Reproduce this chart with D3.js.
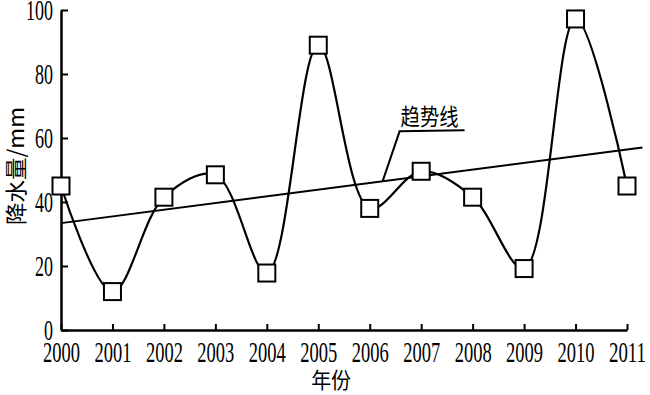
<!DOCTYPE html>
<html>
<head>
<meta charset="utf-8">
<script src="https://cdn.jsdelivr.net/npm/d3@7"></script>
<style>
  body { margin: 0; background: #fff; }
  text { fill: #000; }
</style>
</head>
<body>
<div id="chart"></div>
<script>
const years = [2000, 2001, 2002, 2003, 2004, 2005, 2006, 2007, 2008, 2009, 2010, 2011];
const rainfall = [45, 12, 41.5, 48.5, 17.8, 89, 38, 49.6, 41.5, 19.2, 97.2, 45];
const yTicks = [0, 20, 40, 60, 80, 100];
const trendYears = [2000, 2011.3];
const trendValues = [33.4, 57];
const labelTrend = '趋势线';
const labelX = '年份';
const labelY = '降水量/mm';

const margin = { top: 10, right: 22, bottom: 65, left: 61 };

// X function()
const x = d3.scaleLinear()
  .domain([2000, 2011])
  .range([0, 566]);

// Y function()
const y = d3.scaleLinear()
  .domain([0, 100])
  .range([320, 0]);

const svg = d3.select('#chart').append('svg')
  .attr('width', 650)
  .attr('height', 395)
  .append('g')
  .attr('transform', 'translate(' + margin.left + ',' + margin.top + ')');

const numFont = (sel, len) => sel
  .attr('font-family', '"Liberation Serif", serif')
  .attr('font-size', 29)
  .attr('textLength', len)
  .attr('lengthAdjust', 'spacingAndGlyphs');

// add the x Axis
const xAxis = svg.append('g')
  .attr('transform', 'translate(0,' + y(0) + ')')
  .call(d3.axisBottom(x).tickValues(years).tickSizeInner(-6).tickSizeOuter(0));
xAxis.select('.domain').attr('stroke-width', 2.5);
xAxis.selectAll('.tick line').attr('stroke-width', 2);
xAxis.selectAll('.tick text').remove();
xAxis.selectAll('.tick').append('text')
  .attr('y', 32)
  .attr('text-anchor', 'middle')
  .call(numFont, 37)
  .text(d => d);

// add the y Axis
const yAxis = svg.append('g')
  .call(d3.axisLeft(y).tickValues(yTicks).tickSizeInner(-7).tickSizeOuter(0));
yAxis.select('.domain').attr('stroke-width', 2.5);
yAxis.selectAll('.tick line').attr('stroke-width', 2);
yAxis.selectAll('.tick text').remove();
yAxis.selectAll('.tick').append('text')
  .attr('x', -8)
  .attr('y', 9)
  .attr('text-anchor', 'end')
  .call(numFont, d => String(d).length * 9)
  .text(d => d);

// trend line
svg.append('line')
  .attr('x1', x(trendYears[0]))
  .attr('y1', y(trendValues[0]))
  .attr('x2', x(trendYears[1]))
  .attr('y2', y(trendValues[1]))
  .attr('stroke', '#000')
  .attr('stroke-width', 2);

// rainfall curve
const line = d3.line()
  .x((d, i) => x(years[i]))
  .y(d => y(d))
  .curve(d3.curveCatmullRom.alpha(0.5));

svg.append('path')
  .datum(rainfall)
  .attr('d', line)
  .attr('fill', 'none')
  .attr('stroke', '#000')
  .attr('stroke-width', 2.2);

svg.selectAll('rect.mark')
  .data(rainfall)
  .enter().append('rect')
  .attr('class', 'mark')
  .attr('x', (d, i) => x(years[i]) - 8.5)
  .attr('y', d => y(d) - 8.5)
  .attr('width', 17)
  .attr('height', 17)
  .attr('fill', '#fff')
  .attr('stroke', '#000')
  .attr('stroke-width', 2);

// trend label with leader line
const tAt = 2006.25;
const tVal = trendValues[0] + (tAt - trendYears[0]) * (trendValues[1] - trendValues[0]) / (trendYears[1] - trendYears[0]);
svg.append('polyline')
  .attr('points', [
    [x(tAt), y(tVal)],
    [x(tAt) + 17, y(tVal) - 50],
    [x(tAt) + 82, y(tVal) - 51]
  ].join(' '))
  .attr('fill', 'none')
  .attr('stroke', '#000')
  .attr('stroke-width', 2);

svg.append('text')
  .attr('x', x(tAt) + 18)
  .attr('y', y(tVal) - 56)
  .attr('font-family', '"Noto Sans CJK SC", sans-serif')
  .attr('font-size', 23)
  .attr('textLength', 58)
  .attr('lengthAdjust', 'spacingAndGlyphs')
  .text(labelTrend);

// axis titles
svg.append('text')
  .attr('x', x(2005.25))
  .attr('y', 378)
  .attr('text-anchor', 'middle')
  .attr('font-family', '"Noto Sans CJK SC", sans-serif')
  .attr('font-size', 22)
  .attr('textLength', 40)
  .attr('lengthAdjust', 'spacingAndGlyphs')
  .text(labelX);

svg.append('text')
  .attr('transform', 'translate(-37,' + (y(0) - 164) + ') rotate(-90)')
  .attr('text-anchor', 'middle')
  .attr('font-family', '"Noto Sans CJK SC", sans-serif')
  .attr('font-size', 22)
  .attr('textLength', 118)
  .attr('lengthAdjust', 'spacingAndGlyphs')
  .text(labelY);
</script>
</body>
</html>
